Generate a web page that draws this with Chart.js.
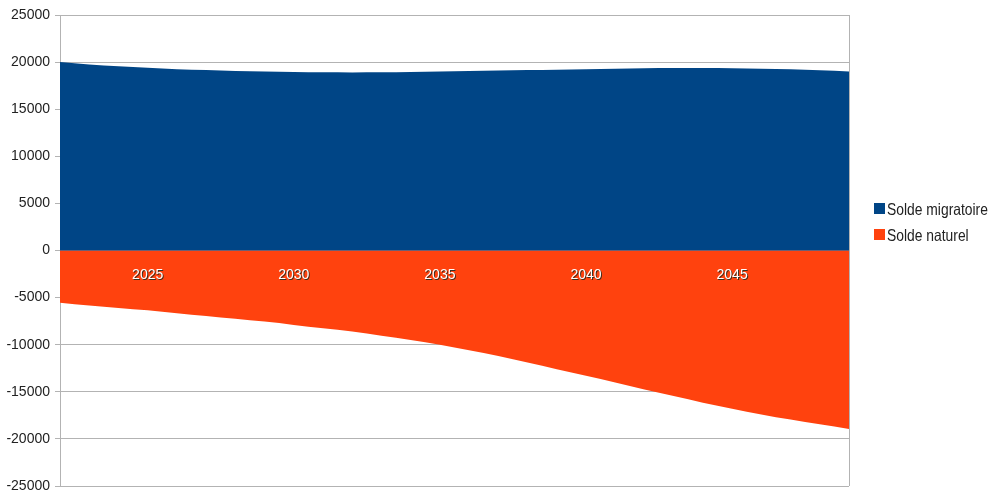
<!DOCTYPE html>
<html>
<head>
<meta charset="utf-8">
<script src="https://cdn.jsdelivr.net/npm/chart.js@4.4.1/dist/chart.umd.min.js"></script>
<style>
  body { margin: 0; background: #fff; }
  #wrap { position: relative; width: 990px; height: 493px; }
  .leg { position: absolute; left: 874px; font: 16.5px 'Liberation Sans', Arial, sans-serif; color: #222; line-height: 16.5px; white-space: nowrap; }
  .leg i { position: absolute; left: 0; width: 11px; height: 11px; }
  .leg span { position: absolute; left: 13px; transform: scaleX(0.84); transform-origin: 0 0; }
</style>
</head>
<body>
<div id="wrap">
  <canvas id="chart" width="990" height="493"></canvas>
  <div class="leg" style="top:203px"><i style="background:#004586"></i><span style="top:-2px">Solde migratoire</span></div>
  <div class="leg" style="top:229px"><i style="background:#ff420e"></i><span style="top:-2px">Solde naturel</span></div>
</div>
<script>
const years = [2022, 2023, 2024, 2025, 2026, 2027, 2028, 2029, 2030, 2031, 2032, 2033, 2034, 2035,
  2036, 2037, 2038, 2039, 2040, 2041, 2042, 2043, 2044, 2045, 2046, 2047, 2048, 2049];

const soldeMigratoire = [20000, 19750, 19550, 19400, 19250, 19150, 19050, 19000, 18950, 18920, 18900, 18920, 18950, 19000,
  19050, 19100, 19150, 19200, 19250, 19300, 19350, 19380, 19380, 19350, 19300, 19230, 19130, 19000];

const soldeNaturel = [-5550, -5850, -6100, -6350, -6650, -6950, -7250, -7550, -7900, -8250, -8600, -9050, -9500, -10000,
  -10600, -11200, -11900, -12600, -13300, -14000, -14750, -15450, -16150, -16800, -17400, -17950, -18450, -18950];

const yTicks = [-25000, -20000, -15000, -10000, -5000, 0, 5000, 10000, 15000, 20000, 25000];

const fontFamily = "'Liberation Sans', Arial, sans-serif";
const gridColor = '#b3b3b3';

function yearLabel(value, index) {
  const yr = years[index];
  return yr % 5 === 0 ? String(yr) : '';
}

new Chart(document.getElementById('chart'), {
  type: 'line',
  data: {
    labels: years,
    datasets: [{
      label: 'Solde migratoire',
      data: soldeMigratoire,
      backgroundColor: '#004586',
      borderWidth: 0,
      fill: 'origin',
      pointRadius: 0,
      cubicInterpolationMode: 'monotone'
    }, {
      label: 'Solde naturel',
      data: soldeNaturel,
      backgroundColor: '#ff420e',
      borderWidth: 0,
      fill: 'origin',
      pointRadius: 0,
      cubicInterpolationMode: 'monotone'
    }]
  },
  options: {
    responsive: false,
    animation: false,
    layout: { padding: { top: 15, bottom: 7, left: 0, right: 141 } },
    plugins: { legend: { display: false }, tooltip: { enabled: false } },
    scales: {
      // shadow copy of the year labels
      xs: {
        type: 'category',
        position: { y: 0 },
        grid: { display: false, drawTicks: false },
        border: { display: false },
        ticks: {
          autoSkip: false, maxRotation: 0, z: 1,
          color: '#3b2f1e', padding: 17, labelOffset: 1,
          font: { family: fontFamily, size: 14 },
          callback: yearLabel
        }
      },
      x: {
        position: { y: 0 },
        grid: {
          drawTicks: false,
          color: ctx => ctx.index === years.length - 1 ? gridColor : 'rgba(0,0,0,0)'
        },
        border: { display: false },
        ticks: {
          autoSkip: false, maxRotation: 0, z: 1,
          color: '#ffffff', padding: 16,
          font: { family: fontFamily, size: 14 },
          callback: yearLabel
        }
      },
      y: {
        min: -25000,
        max: 25000,
        afterBuildTicks: scale => { scale.ticks = yTicks.map(v => ({ value: v })); },
        afterFit: scale => {
          scale.width = 60;
          scale.paddingTop = 0;
          scale.paddingBottom = 0;
        },
        grid: { color: gridColor, tickLength: 5 },
        border: { color: gridColor },
        ticks: {
          color: '#222',
          padding: 5,
          font: { family: fontFamily, size: 14 },
          callback: v => String(v)
        }
      }
    }
  }
});
</script>
</body>
</html>
